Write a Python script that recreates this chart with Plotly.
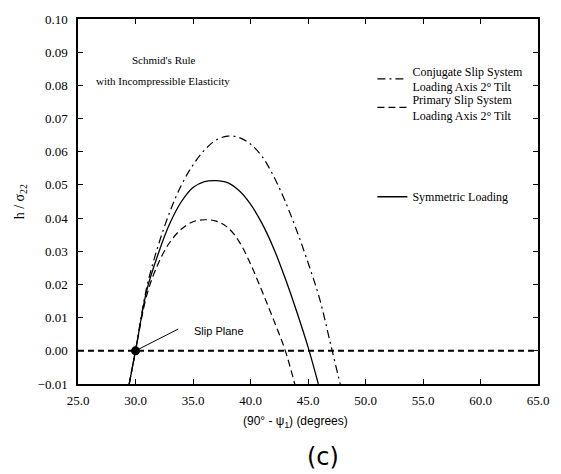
import plotly.graph_objects as go

# Symmetric loading (solid)
sym_x = [29.45, 30, 31, 32, 33, 34, 35, 36, 37, 38, 39, 40, 41, 42, 43, 44, 45, 45.9]
sym_y = [-0.010, 0.0, 0.0185, 0.0295, 0.0385, 0.0450, 0.0492, 0.0510, 0.0513, 0.0507,
         0.0483, 0.0442, 0.0384, 0.0310, 0.0220, 0.0120, 0.0012, -0.010]

# Primary slip system, loading axis 2 deg tilt (dashed)
prim_x = [29.45, 30, 31, 32, 33, 34, 35, 36, 37, 38, 39, 40, 41, 42, 43, 43.85]
prim_y = [-0.010, 0.0, 0.0170, 0.0265, 0.0328, 0.0367, 0.0389, 0.0395, 0.0391, 0.0372,
          0.0330, 0.0262, 0.0180, 0.0094, 0.0003, -0.010]

# Conjugate slip system, loading axis 2 deg tilt (dash-dot)
conj_x = [29.45, 30, 31, 32, 33, 34, 35, 36, 37, 38, 39, 40, 41, 42, 43, 44, 45, 46, 47, 47.8]
conj_y = [-0.010, 0.0, 0.0195, 0.0320, 0.0420, 0.0500, 0.0560, 0.0605, 0.0635, 0.0647,
          0.0643, 0.0623, 0.0586, 0.0527, 0.0452, 0.0364, 0.0266, 0.0158, 0.0015, -0.010]

# h = 0 reference line and slip-plane point
zero_x = [25, 65]
zero_y = [0.0, 0.0]
slip_x = [30.0]
slip_y = [0.0]

x_ticks = [25, 30, 35, 40, 45, 50, 55, 60, 65]
y_ticks = [-0.01, 0.0, 0.01, 0.02, 0.03, 0.04, 0.05, 0.06, 0.07, 0.08, 0.09, 0.10]

SERIF = "Liberation Serif, Times New Roman, serif"
SANS = "Liberation Sans, Arial, sans-serif"

fig = go.Figure()

fig.add_trace(go.Scatter(x=zero_x, y=zero_y, mode="lines", showlegend=False,
                         line=dict(color="black", width=2, dash="6px,4px")))
fig.add_trace(go.Scatter(x=conj_x, y=conj_y, mode="lines", line_shape="spline",
                         name="Conjugate Slip System<br>Loading Axis 2° Tilt",
                         line=dict(color="black", width=1.2, dash="8px,4px,2px,4px"),
                         legend="legend"))
fig.add_trace(go.Scatter(x=prim_x, y=prim_y, mode="lines", line_shape="spline",
                         name="Primary Slip System<br>Loading Axis 2° Tilt",
                         line=dict(color="black", width=1.2, dash="7px,4px"),
                         legend="legend2"))
fig.add_trace(go.Scatter(x=sym_x, y=sym_y, mode="lines", line_shape="spline",
                         name="Symmetric Loading",
                         line=dict(color="black", width=1.3),
                         legend="legend3"))
fig.add_trace(go.Scatter(x=slip_x, y=slip_y, mode="markers", showlegend=False,
                         marker=dict(color="black", size=9)))

leg_common = dict(xanchor="left", yanchor="middle", bgcolor="rgba(0,0,0,0)",
                  valign="middle",
                  font=dict(family=SERIF, size=12, color="black"), borderwidth=0)

fig.update_layout(
    width=561, height=474,
    margin=dict(l=78, r=16, t=14, b=90),
    paper_bgcolor="white", plot_bgcolor="white",
    showlegend=True,
    legend=dict(x=0.640, y=0.835, **leg_common),
    legend2=dict(x=0.640, y=0.757, **leg_common),
    legend3=dict(x=0.640, y=0.513, **leg_common),
    xaxis=dict(range=[25, 65], tickvals=x_ticks, tickformat=".1f",
               ticks="inside", ticklen=5, tickcolor="black", tickwidth=1,
               showline=True, linecolor="black", linewidth=1.5, mirror="ticks",
               showgrid=False, zeroline=False, ticklabelstandoff=4,
               tickfont=dict(family=SERIF, size=13, color="black")),
    yaxis=dict(range=[-0.01, 0.10], tickvals=y_ticks, tickformat=".2f",
               ticks="inside", ticklen=5, tickcolor="black", tickwidth=1,
               showline=True, linecolor="black", linewidth=1.5, mirror="ticks",
               showgrid=False, zeroline=False, ticklabelstandoff=6,
               tickfont=dict(family=SERIF, size=13, color="black")),
    annotations=[
        dict(text="Schmid's Rule", x=32.5, y=(351 - 56) / 3370, xref="x", yref="y",
             showarrow=False, font=dict(family=SERIF, size=11, color="black")),
        dict(text="with Incompressible Elasticity", x=32.4, y=(351 - 77) / 3370,
             xref="x", yref="y", showarrow=False,
             font=dict(family=SERIF, size=11, color="black")),
        dict(text="", x=30, y=0, xref="x", yref="y", ax=33.85, ay=0.0068,
             axref="x", ayref="y", showarrow=True, arrowhead=0, arrowwidth=1,
             arrowcolor="black", standoff=0),
        dict(text="Slip Plane", x=34.9, y=0.0060, xref="x", yref="y",
             xanchor="left", yanchor="middle", showarrow=False,
             font=dict(family=SANS, size=11, color="black")),
        dict(text="(90° - ψ<sub>1</sub>) (degrees)", x=(299 - 78) / 467, y=-(423 - 384) / 370,
             xref="paper", yref="paper", showarrow=False, xanchor="center", yanchor="middle",
             font=dict(family=SANS, size=12, color="black")),
        dict(text="h / σ<sub>22</sub>", x=(20 - 78) / 467, y=0.5, xref="paper", yref="paper",
             showarrow=False, textangle=-90, xanchor="center", yanchor="middle",
             font=dict(family=SERIF, size=14, color="black")),
        dict(text="(c)", x=(327 - 78) / 467, y=-(458 - 384) / 370,
             xref="paper", yref="paper", showarrow=False, xanchor="center", yanchor="middle",
             font=dict(family="DejaVu Sans, sans-serif", size=24, color="black")),
    ],
)

fig.write_html("out.html")
